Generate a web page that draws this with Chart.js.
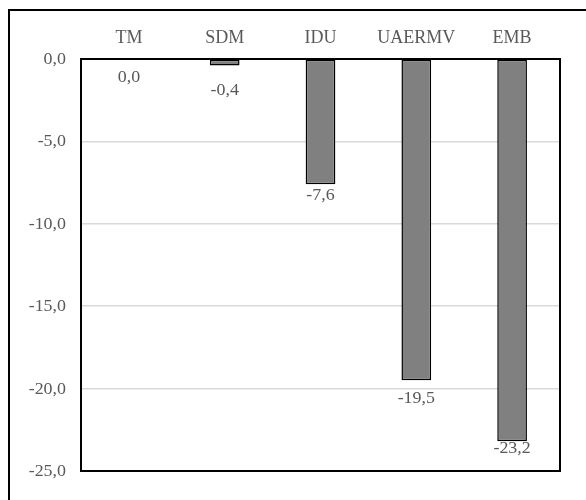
<!DOCTYPE html>
<html>
<head>
<meta charset="utf-8">
<script src="https://cdn.jsdelivr.net/npm/chart.js@4/dist/chart.umd.min.js"></script>
<style>
  body { margin: 0; background: #fff; }
  #frame { position: absolute; left: 8px; top: 9px; width: 700px; height: 700px; border-top: 2px solid #000; border-left: 2px solid #000; }
  #wrap { position: absolute; left: 0; top: 0; width: 586px; height: 500px; }
</style>
</head>
<body>
<div id="frame"></div>
<div id="wrap"><canvas id="chart" width="586" height="500"></canvas></div>
<script>
// categorias y valores
const categories = ["TM", "SDM", "IDU", "UAERMV", "EMB"];
const values = [0.0, -0.4, -7.6, -19.5, -23.2];
const yTicks = [0, -5, -10, -15, -20, -25];

const fmt = v => v.toFixed(1).replace(".", ",");
const textColor = "#595959";
const family = "'Liberation Serif', 'Times New Roman', serif";

// distancia (linea base) de cada etiqueta bajo el extremo de su barra
const labelGap = [23, 29, 16, 23, 12];

// texto un poco ensanchado, como en el original
function wideText(ctx, text, x, y, sx) {
    ctx.save();
    ctx.translate(x, y);
    ctx.scale(sx, 1);
    ctx.fillText(text, 0, 0);
    ctx.restore();
}

// etiquetas de ejes y barras + marco del area de trazado
const extras = {
    id: "extras",
    afterDatasetsDraw(chart) {
        const ctx = chart.ctx;
        const a = chart.chartArea;
        const xs = chart.scales.x;
        const ys = chart.scales.y;
        const meta = chart.getDatasetMeta(0);
        ctx.save();
        ctx.fillStyle = textColor;
        ctx.textBaseline = "alphabetic";

        // categorias arriba
        ctx.font = "18px " + family;
        ctx.textAlign = "center";
        categories.forEach((c, i) => {
            ctx.fillText(c, xs.getPixelForValue(i), a.top - 16);
        });

        // eje y
        ctx.font = "16px " + family;
        ctx.textAlign = "right";
        yTicks.forEach(v => {
            wideText(ctx, fmt(v), a.left - 15, ys.getPixelForValue(v) + 5, 1.12);
        });

        // valores
        ctx.textAlign = "center";
        meta.data.forEach((bar, i) => {
            wideText(ctx, fmt(values[i]), bar.x, bar.y + labelGap[i], 1.12);
        });

        ctx.strokeStyle = "#000";
        ctx.lineWidth = 2;
        ctx.strokeRect(a.left, a.top, a.right - a.left, a.bottom - a.top);
        ctx.restore();
    }
};

new Chart(document.getElementById("chart"), {
    type: "bar",
    data: {
        labels: categories,
        datasets: [{
            data: values,
            backgroundColor: "#808080",
            borderColor: "#000",
            borderWidth: 1.5,
            borderSkipped: false,
            barPercentage: 0.31,
            categoryPercentage: 1
        }]
    },
    options: {
        responsive: false,
        animation: false,
        layout: { padding: { left: 0, top: 0, right: 26, bottom: 29 } },
        plugins: { legend: { display: false }, tooltip: { enabled: false } },
        scales: {
            x: {
                position: "top",
                grid: { display: false, drawTicks: false },
                border: { display: false },
                ticks: { display: false },
                afterFit: s => { s.height = 59; }
            },
            y: {
                min: -25,
                max: 0,
                afterBuildTicks: s => { s.ticks = yTicks.map(v => ({ value: v })); },
                grid: { color: "#d9d9d9", lineWidth: 1.5, drawTicks: false },
                border: { display: false },
                ticks: { display: false },
                afterFit: s => { s.width = 81; }
            }
        }
    },
    plugins: [extras]
});
</script>
</body>
</html>
